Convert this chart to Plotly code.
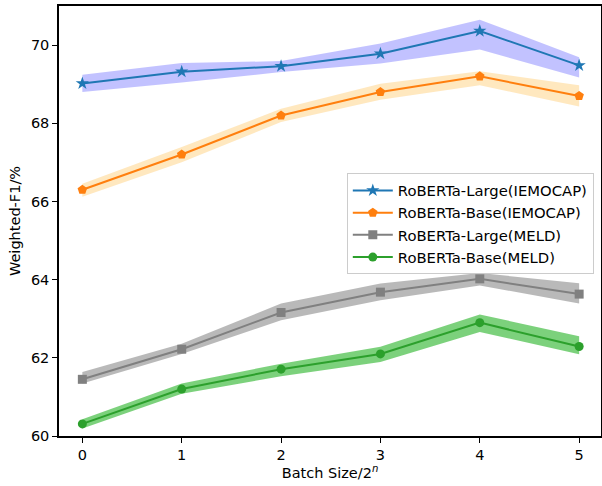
import plotly.graph_objects as go

batch_exp = [0, 1, 2, 3, 4, 5]

large_iemocap = [69.02, 69.32, 69.46, 69.78, 70.36, 69.48]
large_iemocap_lo = [68.80, 69.04, 69.31, 69.53, 69.89, 69.17]
large_iemocap_hi = [69.24, 69.54, 69.59, 70.04, 70.65, 69.69]

base_iemocap = [66.30, 67.20, 68.20, 68.80, 69.20, 68.70]
base_iemocap_lo = [66.12, 67.00, 68.03, 68.60, 68.97, 68.43]
base_iemocap_hi = [66.45, 67.39, 68.37, 69.01, 69.33, 68.97]

large_meld = [61.45, 62.22, 63.16, 63.68, 64.02, 63.63]
large_meld_lo = [61.34, 62.10, 62.96, 63.47, 63.85, 63.39]
large_meld_hi = [61.64, 62.36, 63.39, 63.90, 64.17, 63.91]

base_meld = [60.31, 61.20, 61.71, 62.10, 62.90, 62.29]
base_meld_lo = [60.19, 61.08, 61.53, 61.89, 62.66, 62.09]
base_meld_hi = [60.43, 61.34, 61.85, 62.28, 63.11, 62.55]

series = [
    ("RoBERTa-Large(IEMOCAP)", large_iemocap, large_iemocap_lo, large_iemocap_hi,
     "#1f77b4", "rgba(0,0,255,0.24)", "star", 10),
    ("RoBERTa-Base(IEMOCAP)", base_iemocap, base_iemocap_lo, base_iemocap_hi,
     "#ff7f0e", "rgba(255,165,0,0.25)", "pentagon", 10),
    ("RoBERTa-Large(MELD)", large_meld, large_meld_lo, large_meld_hi,
     "#808080", "rgba(128,128,128,0.55)", "square", 9),
    ("RoBERTa-Base(MELD)", base_meld, base_meld_lo, base_meld_hi,
     "#2ca02c", "rgba(44,180,44,0.62)", "circle", 9),
]

fig = go.Figure()
for name, y, lo, hi, color, fillc, sym, ms in series:
    fig.add_trace(go.Scatter(
        x=batch_exp + batch_exp[::-1], y=hi + lo[::-1],
        fill="toself", fillcolor=fillc, line=dict(width=0),
        mode="lines", showlegend=False, hoverinfo="skip"))
for name, y, lo, hi, color, fillc, sym, ms in series:
    fig.add_trace(go.Scatter(
        x=batch_exp, y=y, name=name, mode="lines+markers",
        line=dict(color=color, width=2),
        marker=dict(symbol=sym, size=ms, color=color)))

FS = 14.5
axis_common = dict(showline=True, linecolor="black", linewidth=1.5, mirror=True,
                   ticks="outside", ticklen=5, tickwidth=1.2, tickcolor="black",
                   showgrid=False, zeroline=False, automargin=False,
                   tickfont=dict(family="DejaVu Sans", size=FS, color="black"))

fig.update_layout(
    width=602, height=486,
    margin=dict(l=59, r=1, t=6, b=50),
    plot_bgcolor="white", paper_bgcolor="white",
    font=dict(family="DejaVu Sans", size=FS, color="black"),
    xaxis=dict(range=[-0.235, 5.22], tickmode="array", tickvals=batch_exp,
               title=dict(text="Batch Size/2<sup><i>n</i></sup>", standoff=5,
                          font=dict(size=FS)),
               **axis_common),
    yaxis=dict(range=[60, 71], dtick=2, tick0=60,
               title=dict(text="Weighted-F1/%", standoff=7, font=dict(size=FS)),
               **axis_common),
    legend=dict(x=0.531, y=0.611, xanchor="left", yanchor="top",
                bgcolor="rgba(255,255,255,0.85)", bordercolor="#cccccc", borderwidth=1,
                font=dict(family="DejaVu Sans", size=14.8), itemwidth=40,
                tracegroupgap=0),
)

fig.write_html("out.html", config={"displayModeBar": False},
               post_script="document.body.style.margin='0';document.body.style.overflow='hidden';")
